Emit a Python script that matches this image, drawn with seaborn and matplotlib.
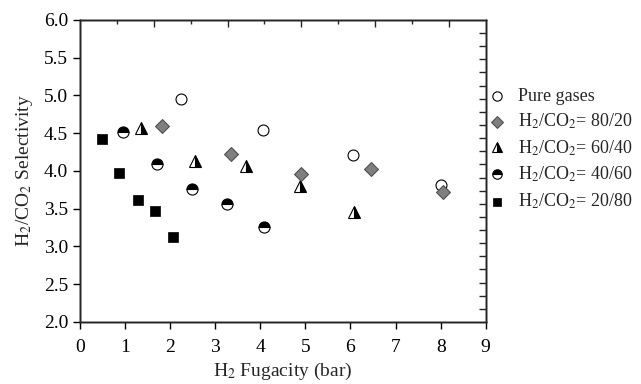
import numpy as np
import pandas as pd
import matplotlib
matplotlib.use("Agg")
import matplotlib.pyplot as plt
from matplotlib.ticker import FixedLocator
import seaborn as sns

# values
pure_x = [2.25, 4.06, 6.05, 8.00]
pure_y = [4.95, 4.54, 4.21, 3.82]
r8020_x = [1.83, 3.34, 4.90, 6.45, 8.05]
r8020_y = [4.59, 4.23, 3.96, 4.02, 3.72]
r6040_x = [1.36, 2.54, 3.69, 4.87, 6.07]
r6040_y = [4.57, 4.13, 4.07, 3.80, 3.46]
r4060_x = [0.96, 1.71, 2.49, 3.27, 4.08]
r4060_y = [4.51, 4.09, 3.76, 3.56, 3.26]
r2080_x = [0.49, 0.87, 1.28, 1.66, 2.07]
r2080_y = [4.42, 3.97, 3.61, 3.47, 3.13]

labels = ["Pure gases",
          "H$_2$/CO$_2$= 80/20",
          "H$_2$/CO$_2$= 60/40",
          "H$_2$/CO$_2$= 40/60",
          "H$_2$/CO$_2$= 20/80"]

sns.set_style("ticks")
plt.rcParams["font.family"] = ["Liberation Serif", "DejaVu Serif"]
plt.rcParams["mathtext.fontset"] = "stix"
plt.rcParams["axes.linewidth"] = 1.0

fig = plt.figure(figsize=(6.41, 3.84), dpi=100)
ax = fig.add_axes([0.1248, 0.1615, 0.633, 0.7865])

sns.scatterplot(x=pure_x, y=pure_y, ax=ax, marker="o", s=62, color="white",
                edgecolor="black", linewidth=0.8, label=labels[0], zorder=3)
sns.lineplot(x=r6040_x, y=r6040_y, ax=ax, marker="^", markersize=8.5, linestyle="",
             color="black", markerfacecolor="black", markerfacecoloralt="white",
             fillstyle="right", markeredgecolor="black", markeredgewidth=0.8,
             estimator=None, errorbar=None, sort=False, label=labels[2], zorder=3)
sns.lineplot(x=r4060_x, y=r4060_y, ax=ax, marker="o", markersize=8, linestyle="",
             color="black", markerfacecolor="black", markerfacecoloralt="white",
             fillstyle="top", markeredgecolor="black", markeredgewidth=0.8,
             estimator=None, errorbar=None, sort=False, label=labels[3], zorder=3)
sns.scatterplot(x=r2080_x, y=r2080_y, ax=ax, marker="s", s=48, color="black",
                edgecolor="black", linewidth=0.5, label=labels[4], zorder=3)
sns.scatterplot(x=r8020_x, y=r8020_y, ax=ax, marker="D", s=50, color="#7f7f7f",
                edgecolor="#505050", linewidth=0.8, label=labels[1], zorder=4)

ax.set_xlim(0, 9)
ax.set_ylim(2.0, 6.0)
ax.set_xticks(range(0, 10))
ax.set_yticks(np.arange(2.0, 6.01, 0.5))
ax.set_yticklabels([f"{v:.1f}" for v in np.arange(2.0, 6.01, 0.5)])
ax.tick_params(axis="both", direction="out", length=5, width=1.0,
               labelsize=14, colors="black", top=False, right=False)
ax.tick_params(axis="x", pad=7)
ax.set_xlabel("H$_2$ Fugacity (bar)", fontsize=14, labelpad=4)
ax.set_ylabel("H$_2$/CO$_2$ Selectivity", fontsize=14, labelpad=6)

# decorative ticks on the opposite spines
ax_top = ax.twiny()
ax_top.set_xlim(0, 11)
ax_top.xaxis.set_major_locator(FixedLocator([2, 4, 6, 8, 10]))
ax_top.xaxis.set_minor_locator(FixedLocator([1, 3, 5, 7, 9]))
ax_top.tick_params(axis="x", which="major", direction="in", length=5, width=1.0,
                   labeltop=False)
ax_top.tick_params(axis="x", which="minor", direction="in", length=3, width=1.0)
ax_right = ax.twinx()
ax_right.set_ylim(0, 23)
ax_right.set_yticks(range(1, 23))
ax_right.tick_params(axis="y", direction="in", length=5, width=1.0, labelright=False)
for a in (ax_top, ax_right):
    for sp in a.spines.values():
        sp.set_linewidth(1.0)

handles, labs = ax.get_legend_handles_labels()
order = [labs.index(l) for l in labels]
ax.legend([handles[i] for i in order], [labs[i] for i in order],
          loc="upper left", bbox_to_anchor=(0.761, 0.772),
          bbox_transform=fig.transFigure, frameon=False, fontsize=13,
          handlelength=1.0, handletextpad=0.7, labelspacing=0.4,
          borderaxespad=0, borderpad=0, markerscale=0.85)

fig.savefig("out.png", dpi=100)
